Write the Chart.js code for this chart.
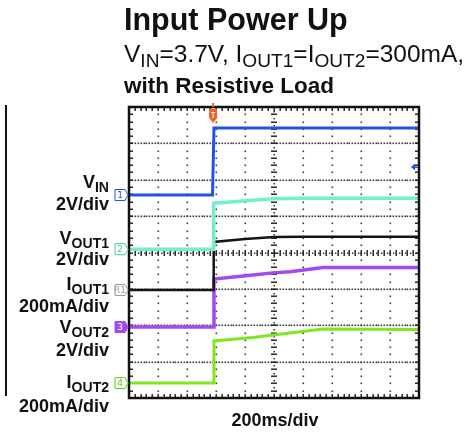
<!DOCTYPE html>
<html>
<head>
<meta charset="utf-8">
<script src="https://cdn.jsdelivr.net/npm/chart.js@4.4.0/dist/chart.umd.min.js"></script>
<style>
  body { margin: 0; width: 476px; height: 432px; background: #fff; overflow: hidden;
         font-family: "Liberation Sans", Arial, sans-serif; color: #111; }
  #wrap { position: relative; width: 476px; height: 432px; }
  #scope { position: absolute; left: 0; top: 0; }
  .t { position: absolute; white-space: nowrap; }
  #title { left: 124px; top: 2px; font-size: 30.5px; font-weight: bold; line-height: 34px; }
  #sub1 { left: 124px; top: 40px; font-size: 24.5px; line-height: 28px; }
  #sub2 { left: 124px; top: 72px; font-size: 22.5px; font-weight: bold; line-height: 28px; }
  sub { font-size: 78%; vertical-align: baseline; position: relative; top: 0.26em; }
  .lab { position: absolute; right: 367px; font-size: 18px; font-weight: bold; line-height: 20px; white-space: nowrap; text-align: right; }
  #xunit { left: 0; width: 550px; top: 410px; text-align: center; font-size: 18px; font-weight: bold; line-height: 20px; }
  #edge { position: absolute; left: 5px; top: 105px; width: 2px; height: 291px; background: #111; }
</style>
</head>
<body>
<div id="wrap">
  <canvas id="scope" width="476" height="432"></canvas>
  <div id="edge"></div>
  <div class="t" id="title">Input Power Up</div>
  <div class="t" id="sub1">V<sub>IN</sub>=3.7V, I<sub>OUT1</sub>=I<sub>OUT2</sub>=300mA,</div>
  <div class="t" id="sub2">with Resistive Load</div>
  <div class="lab" style="top:172px">V<sub>IN</sub></div>
  <div class="lab" style="top:194px">2V/div</div>
  <div class="lab" style="top:228px">V<sub>OUT1</sub></div>
  <div class="lab" style="top:249px">2V/div</div>
  <div class="lab" style="top:274px">I<sub>OUT1</sub></div>
  <div class="lab" style="top:296px">200mA/div</div>
  <div class="lab" style="top:317px">V<sub>OUT2</sub></div>
  <div class="lab" style="top:340px">2V/div</div>
  <div class="lab" style="top:372px">I<sub>OUT2</sub></div>
  <div class="lab" style="top:396px">200mA/div</div>
  <div class="t" id="xunit">200ms/div</div>
</div>
<script>
// time base: 200 ms/div, 10 divisions
const msPerDiv = 200;

// channel 1: input voltage (V)
const vinTime = [0, 576, 586, 2000];
const vinVolts = [0, 0, 3.68, 3.68];

// channel 2: first output voltage (V)
const vout1Time = [0, 580, 584, 700, 800, 1000, 1200, 2000];
const vout1Volts = [0, 0, 2.53, 2.6, 2.67, 2.78, 2.8, 2.8];

// ref R1: first output current (mA)
const iout1Time = [0, 580, 584, 800, 1000, 1200, 2000];
const iout1mA = [0, 0, 264, 280, 291, 292, 292];

// channel 3: second output voltage (V)
const vout2Time = [0, 580, 586, 855, 993, 1110, 1338, 2000];
const vout2Volts = [0, 0, 2.64, 2.86, 2.98, 3.04, 3.27, 3.27];

// channel 4: second output current (mA)
const iout2Time = [0, 580, 586, 855, 993, 1110, 1338, 2000];
const iout2mA = [0, 0, 232, 251, 264, 275, 297, 294];

const triggerTime = 580;
const triggerLevel = 1.54; // V on channel 1

// screen setup per trace: ground level (div from bottom), units per div
const channels = [
  { tag: '1', time: vinTime, vals: vinVolts, ground: 5.58, perDiv: 2, color: '#2452e6', width: 3, fill: false },
  { tag: '2', time: vout1Time, vals: vout1Volts, ground: 4.09, perDiv: 2, color: '#72f0cd', width: 3.5, fill: false, tagColor: '#3fcf9c' },
  { tag: 'R1', time: iout1Time, vals: iout1mA, ground: 2.97, perDiv: 200, color: '#141414', width: 2.5, fill: false, tagColor: '#9a9a9a' },
  { tag: '3', time: vout2Time, vals: vout2Volts, ground: 1.95, perDiv: 2, color: '#a24af0', width: 3.5, fill: true },
  { tag: '4', time: iout2Time, vals: iout2mA, ground: 0.41, perDiv: 200, color: '#80e61e', width: 3, fill: false, tagColor: '#5ccc1a' }
];

function tag(ctx, xr, yc, label, color, filled) {
  ctx.beginPath();
  ctx.moveTo(xr - 13, yc - 5.5);
  ctx.lineTo(xr - 3, yc - 5.5);
  ctx.lineTo(xr, yc);
  ctx.lineTo(xr - 3, yc + 5.5);
  ctx.lineTo(xr - 13, yc + 5.5);
  ctx.closePath();
  ctx.fillStyle = filled ? color : '#fff';
  ctx.fill();
  ctx.lineWidth = 1;
  ctx.strokeStyle = color;
  ctx.stroke();
  ctx.fillStyle = filled ? '#fff' : color;
  ctx.font = '9px "DejaVu Sans", sans-serif';
  ctx.textAlign = 'center';
  ctx.textBaseline = 'middle';
  ctx.fillText(label, xr - 8, yc + 0.5);
}

const scopePlugin = {
  id: 'scope',
  beforeDatasetsDraw(chart) {
    const { ctx, chartArea: a, scales: { x, y } } = chart;
    ctx.save();
    // dotted graticule
    ctx.fillStyle = '#3a3a3a';
    for (let i = 1; i < 10; i++) {
      if (i === 5) continue;
      const px = Math.round(x.getPixelForValue(i * msPerDiv));
      for (let j = 1; j < 40; j++) {
        ctx.fillRect(px - 0.5, Math.round(y.getPixelForValue(j / 5)) - 0.5, 1.6, 1.6);
      }
    }
    for (let i = 1; i < 8; i++) {
      if (i === 4) continue;
      const py = Math.round(y.getPixelForValue(i));
      for (let j = 1; j < 100; j++) {
        ctx.fillRect(Math.round(x.getPixelForValue(j * msPerDiv / 10)) - 0.5, py - 0.5, 1.6, 1.6);
      }
    }
    // centre axes with minor ticks
    ctx.fillStyle = '#1a1a1a';
    const cx = Math.round(x.getPixelForValue(5 * msPerDiv));
    const cy = Math.round(y.getPixelForValue(4));
    for (let j = 1; j < 40; j++) {
      const py = Math.round(y.getPixelForValue(j / 5));
      ctx.fillRect(cx - 3, py - 0.5, 6, 1.4);
      ctx.fillRect(cx - 0.5, Math.round(y.getPixelForValue(j / 5 + 0.1)), 1.4, 1.4);
    }
    for (let j = 1; j < 50; j++) {
      const px = Math.round(x.getPixelForValue(j * msPerDiv / 5));
      ctx.fillRect(px - 0.5, cy - 3, 1.4, 6);
      ctx.fillRect(Math.round(x.getPixelForValue(j * msPerDiv / 5 + msPerDiv / 10)), cy - 0.5, 1.4, 1.4);
    }
    // frame ticks
    for (let j = 1; j < 50; j++) {
      const px = Math.round(x.getPixelForValue(j * msPerDiv / 5));
      ctx.fillRect(px - 0.5, a.top, 1.4, 4);
      ctx.fillRect(px - 0.5, a.bottom - 4, 1.4, 4);
    }
    for (let j = 1; j < 40; j++) {
      const py = Math.round(y.getPixelForValue(j / 5));
      ctx.fillRect(a.left, py - 0.5, 4, 1.4);
      ctx.fillRect(a.right - 4, py - 0.5, 4, 1.4);
    }
    ctx.restore();
  },
  afterDraw(chart) {
    const { ctx, chartArea: a, scales: { x, y } } = chart;
    ctx.save();
    ctx.lineWidth = 2.5;
    ctx.strokeStyle = '#111';
    ctx.strokeRect(a.left, a.top, a.right - a.left, a.bottom - a.top);
    // channel ground markers
    channels.forEach(c => {
      tag(ctx, a.left - 1, y.getPixelForValue(c.ground), c.tag, c.tagColor || c.color, c.fill);
    });
    // trigger position marker
    const tx = x.getPixelForValue(triggerTime);
    ctx.fillStyle = '#f26322';
    ctx.fillRect(tx - 1, a.top - 4, 2, 4);
    ctx.beginPath();
    ctx.moveTo(tx - 4, a.top + 2);
    ctx.lineTo(tx + 4, a.top + 2);
    ctx.lineTo(tx + 4, a.top + 11);
    ctx.lineTo(tx, a.top + 16);
    ctx.lineTo(tx - 4, a.top + 11);
    ctx.closePath();
    ctx.fill();
    ctx.fillStyle = '#fff';
    ctx.fillRect(tx - 2, a.top + 5, 4, 1);
    ctx.fillRect(tx - 0.5, a.top + 5, 1, 6);
    // trigger level marker
    const ty = y.getPixelForValue(channels[0].ground + triggerLevel / channels[0].perDiv);
    ctx.fillStyle = '#2452e6';
    ctx.beginPath();
    ctx.moveTo(a.right - 8, ty);
    ctx.lineTo(a.right - 4, ty - 3.5);
    ctx.lineTo(a.right - 4, ty + 3.5);
    ctx.closePath();
    ctx.fill();
    ctx.fillRect(a.right - 5, ty - 0.5, 4, 1.5);
    ctx.restore();
  }
};

new Chart(document.getElementById('scope').getContext('2d'), {
  type: 'line',
  data: {
    datasets: channels.map((c, k) => ({
      label: c.tag,
      data: c.time.map((t, i) => ({ x: t, y: c.ground + c.vals[i] / c.perDiv })),
      borderColor: c.color,
      borderWidth: c.width,
      pointRadius: 0,
      tension: 0,
      fill: false,
      order: k
    }))
  },
  options: {
    responsive: false,
    animation: false,
    layout: { padding: { left: 129, top: 107, right: 57, bottom: 34 } },
    plugins: { legend: { display: false }, tooltip: { enabled: false } },
    scales: {
      x: { type: 'linear', min: 0, max: 10 * msPerDiv, display: false },
      y: { type: 'linear', min: 0, max: 8, display: false }
    }
  },
  plugins: [scopePlugin]
});
</script>
</body>
</html>
